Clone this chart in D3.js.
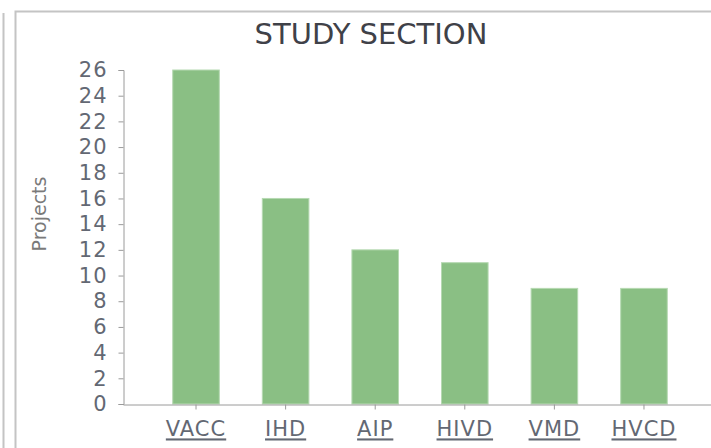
<!DOCTYPE html>
<html>
<head>
<meta charset="utf-8">
<script src="https://cdn.jsdelivr.net/npm/d3@7"></script>
<style>
  body { margin: 0; background: #fff; }
  text { font-family: "DejaVu Sans", Verdana, sans-serif; }
</style>
</head>
<body>
<div id="chart"></div>
<script>
// study section counts
var sections = ["VACC", "IHD", "AIP", "HIVD", "VMD", "HVCD"];
var projects = [26, 16, 12, 11, 9, 9];
var yTicks = [0, 2, 4, 6, 8, 10, 12, 14, 16, 18, 20, 22, 24, 26];

var svg = d3.select("#chart")
  .append("svg")
  .attr("width", 711)
  .attr("height", 448);

// panel frame (left edge of neighbour panel + this panel)
svg.append("line")
  .attr("x1", 3.5).attr("x2", 3.5)
  .attr("y1", 13).attr("y2", 448)
  .style("stroke", "#c4c4c4")
  .style("stroke-width", 2);
svg.append("path")
  .attr("d", "M15.5,448V11.5H711")
  .style("fill", "none")
  .style("stroke", "#c4c4c4")
  .style("stroke-width", 2);

var x = d3.scaleBand()
  .domain(sections)
  .range([123, 717])
  .paddingInner(0.48)
  .paddingOuter(0.555);

var y = d3.scaleLinear()
  .domain([0, 26])
  .range([404, 70]);

// bars
svg.selectAll("rect.bar")
  .data(projects)
  .enter().append("rect")
  .attr("class", "bar")
  .attr("x", function(d, i) {
    return x(sections[i]);
  })
  .attr("y", function(d) {
    return y(d);
  })
  .attr("width", x.bandwidth())
  .attr("height", function(d) {
    return y(0) - y(d);
  })
  .style("fill", "#8abf84")
  .style("stroke", "#b6d9b2")
  .style("stroke-width", 1);

// y axis
var yAxis = svg.append("g")
  .attr("transform", "translate(123.5,0)")
  .call(d3.axisLeft(y).tickValues(yTicks).tickSize(5).tickSizeOuter(5).tickPadding(11));
yAxis.select(".domain").style("stroke", "#9a9a9a");
yAxis.selectAll(".tick line").style("stroke", "#9a9a9a");
yAxis.selectAll(".tick text")
  .style("font-family", "DejaVu Sans")
  .style("font-size", "21px")
  .style("fill", "#636873")
  .style("letter-spacing", "1px");

// x axis
var xAxis = svg.append("g")
  .attr("transform", "translate(0,404.5)")
  .call(d3.axisBottom(x).tickSize(5).tickSizeOuter(0).tickPadding(12));
xAxis.select(".domain").style("stroke", "#9a9a9a");
xAxis.selectAll(".tick line").style("stroke", "#9a9a9a");
xAxis.selectAll(".tick text")
  .style("font-family", "DejaVu Sans")
  .style("font-size", "21px")
  .style("fill", "#636873")
  .style("letter-spacing", "1px")
  .style("text-decoration", "underline");

// y label
svg.append("text")
  .attr("transform", "translate(46,214) rotate(-90)")
  .style("text-anchor", "middle")
  .style("font-size", "19px")
  .style("fill", "#7a7a7a")
  .text("Projects");

// title
svg.append("text")
  .attr("x", 371)
  .attr("y", 44)
  .style("text-anchor", "middle")
  .style("font-size", "29px")
  .style("fill", "#3f4148")
  .text("STUDY SECTION");
</script>
</body>
</html>
